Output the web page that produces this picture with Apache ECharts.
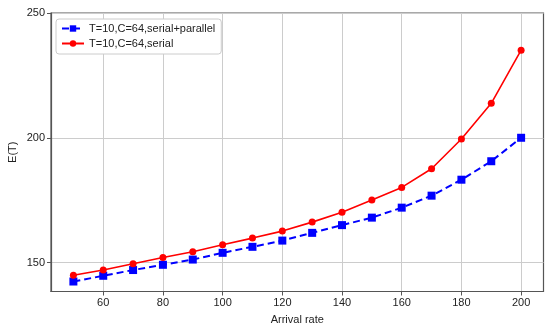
<!DOCTYPE html>
<html>
<head>
<meta charset="utf-8">
<script src="https://cdn.jsdelivr.net/npm/echarts@6/dist/echarts.min.js"></script>
<style>html,body{margin:0;padding:0;background:#fff}#c{width:550px;height:331px}</style>
</head>
<body>
<div id="c"></div>
<script>
const arrivalRates = [50, 60, 70, 80, 90, 100, 110, 120, 130, 140, 150, 160, 170, 180, 190, 200];
const serialParallel = [142.4, 144.7, 147.0, 149.1, 151.2, 153.9, 156.3, 158.8, 161.9, 165.0, 168.0, 172.0, 176.8, 183.2, 190.6, 200.0];
const serialOnly = [144.9, 147.0, 149.5, 152.0, 154.3, 157.1, 159.8, 162.6, 166.2, 170.2, 175.1, 180.1, 187.6, 199.5, 213.8, 235.1];
const xTicks = [60, 80, 100, 120, 140, 160, 180, 200];
const yTicks = [150, 200, 250];
const seriesNames = ['T=10,C=64,serial+parallel', 'T=10,C=64,serial'];

const font = 'Liberation Sans, Arial, sans-serif';
const chart = echarts.init(document.getElementById('c'), null, {renderer: 'canvas'});
chart.setOption({
  animation: false,
  backgroundColor: '#fff',
  grid: {left: 51, right: 6.5, top: 13, bottom: 39.5, outerBoundsMode: 'none', containLabel: false,
         show: true, borderColor: '#555', borderWidth: 1.2, backgroundColor: 'transparent'},
  legend: {
    left: 56, top: 19, orient: 'vertical', itemWidth: 22, itemHeight: 8, itemGap: 4,
    padding: [4, 6, 5, 5],
    backgroundColor: '#fff', borderColor: '#ccc', borderWidth: 1, borderRadius: 3,
    textStyle: {fontFamily: font, fontSize: 11, color: '#222'},
    data: seriesNames
  },
  xAxis: {
    type: 'value', min: 42.5, max: 207.5,
    name: 'Arrival rate', nameLocation: 'middle', nameGap: 23, nameMoveOverlap: false,
    nameTextStyle: {fontFamily: font, fontSize: 11, color: '#222'},
    axisLine: {show: true, lineStyle: {color: '#555', width: 1.2}},
    axisTick: {show: true, length: 4, lineStyle: {color: '#555'}, customValues: xTicks},
    axisLabel: {customValues: xTicks, fontFamily: font, fontSize: 11, color: '#222', margin: 6},
    splitLine: {show: true, lineStyle: {color: '#cccccc', width: 1}}
  },
  yAxis: {
    type: 'value', min: 138.4, max: 250,
    name: 'E(T)', nameLocation: 'middle', nameGap: 33, nameMoveOverlap: false,
    nameTextStyle: {fontFamily: font, fontSize: 11, color: '#222'},
    axisLine: {show: true, lineStyle: {color: '#555', width: 1.2}},
    axisTick: {show: true, length: 4, lineStyle: {color: '#555'}, customValues: yTicks},
    axisLabel: {customValues: yTicks, fontFamily: font, fontSize: 11, color: '#222', margin: 6},
    splitLine: {show: true, lineStyle: {color: '#cccccc', width: 1}}
  },
  series: [
    {
      name: seriesNames[0], type: 'line',
      data: arrivalRates.map((x, i) => [x, serialParallel[i]]),
      symbol: 'rect', symbolSize: 8,
      lineStyle: {color: '#0000ff', width: 2, type: [7, 4]},
      itemStyle: {color: '#0000ff'}
    },
    {
      name: seriesNames[1], type: 'line',
      data: arrivalRates.map((x, i) => [x, serialOnly[i]]),
      symbol: 'circle', symbolSize: 7,
      lineStyle: {color: '#ff0000', width: 1.6},
      itemStyle: {color: '#ff0000'}
    }
  ]
});
</script>
</body>
</html>
